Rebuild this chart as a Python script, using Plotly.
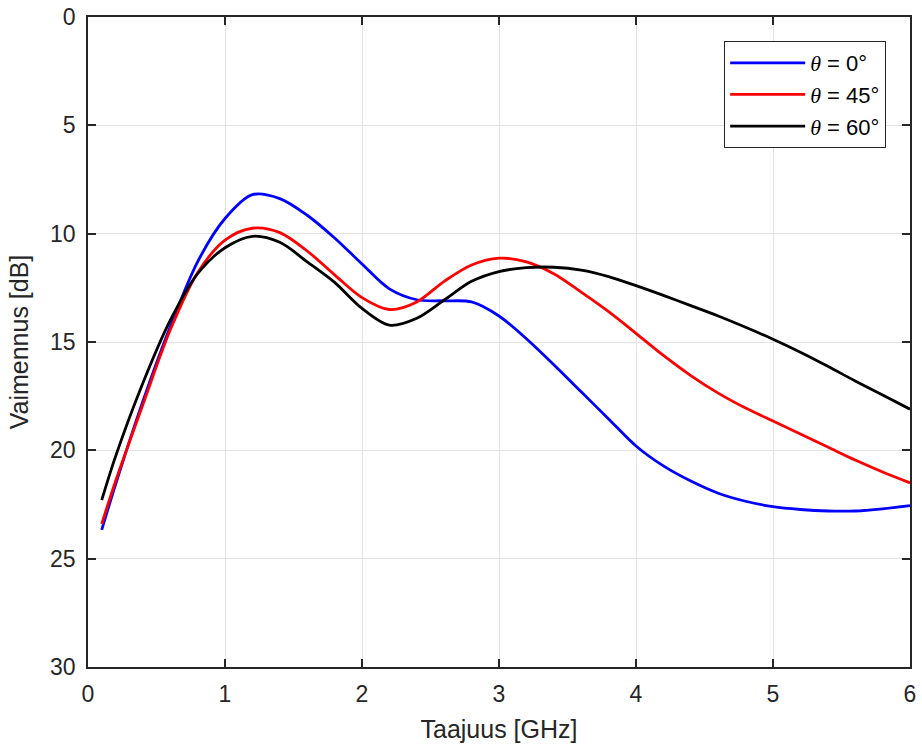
import plotly.graph_objects as go

# Taajuus [GHz]
freq = [0.1, 0.2, 0.4, 0.6, 0.8, 1.0, 1.2, 1.4, 1.6, 1.8, 2.0, 2.2, 2.4, 2.6, 2.8,
        3.0, 3.2, 3.4, 3.6, 3.8, 4.0, 4.2, 4.4, 4.6, 4.8, 5.0, 5.2, 5.4, 5.6, 5.8, 6.0]

# Vaimennus [dB]
att_0 = [23.67, 21.6, 17.75, 14.3, 11.3, 9.3, 8.2, 8.38, 9.15, 10.2, 11.4, 12.55, 13.05,
         13.1, 13.15, 13.8, 14.85, 16.05, 17.3, 18.55, 19.8, 20.72, 21.42, 21.98, 22.35,
         22.6, 22.73, 22.8, 22.8, 22.7, 22.55]
att_45 = [23.4, 21.45, 17.9, 14.45, 11.8, 10.3, 9.75, 9.95, 10.8, 11.9, 12.95, 13.5, 13.15,
          12.2, 11.45, 11.13, 11.3, 11.85, 12.7, 13.6, 14.6, 15.62, 16.55, 17.36, 18.05,
          18.65, 19.25, 19.85, 20.45, 21.0, 21.5]
att_60 = [22.3, 20.3, 16.9, 14.0, 11.85, 10.65, 10.12, 10.4, 11.3, 12.25, 13.45, 14.22, 13.9,
          13.06, 12.2, 11.75, 11.57, 11.55, 11.68, 11.98, 12.4, 12.85, 13.32, 13.8, 14.32,
          14.87, 15.47, 16.12, 16.8, 17.45, 18.1]

theta = "<i><span style='font-family:Liberation Serif, serif'>θ</span></i>"
series = [
    (theta + " = 0°", att_0, "#0000ff"),
    (theta + " = 45°", att_45, "#ff0000"),
    (theta + " = 60°", att_60, "#000000"),
]

fig = go.Figure()
for name, vals, color in series:
    fig.add_trace(go.Scatter(x=freq, y=vals, mode="lines", name=name,
                             line=dict(color=color, width=2.8, shape="spline", smoothing=0.9)))

axis_style = dict(
    showline=True, linecolor="#262626", linewidth=1.6, mirror="ticks",
    ticks="inside", ticklen=8, tickwidth=1.6, tickcolor="#262626",
    showgrid=True, gridcolor="#e3e3e3", gridwidth=1, zeroline=False,
    tickfont=dict(size=23, color="#262626"), automargin=False,
)

fig.update_xaxes(range=[0, 6], dtick=1, ticklabelstandoff=6,
                 title=dict(text="Taajuus [GHz]", font=dict(size=25, color="#262626"), standoff=14),
                 **axis_style)
fig.update_yaxes(range=[30, 0], dtick=5, ticklabelstandoff=6,
                 title=dict(text="Vaimennus [dB]", font=dict(size=25, color="#262626"), standoff=14),
                 **axis_style)

fig.update_layout(
    width=922, height=751,
    margin=dict(l=88, r=12, t=17, b=84),
    paper_bgcolor="white", plot_bgcolor="white",
    font=dict(family="Liberation Sans, Arial, sans-serif", color="#262626"),
    legend=dict(x=0.971, y=0.963, xanchor="right", yanchor="top",
                bordercolor="#262626", borderwidth=1, bgcolor="white",
                font=dict(size=22, color="#000000"), tracegroupgap=0, itemwidth=75),
    showlegend=True,
)

# drop the default body margin so the figure fills the window exactly
fig.write_html("out.html", config={"displayModeBar": False},
               post_script="document.body.style.margin='0';document.body.style.overflow='hidden';")
